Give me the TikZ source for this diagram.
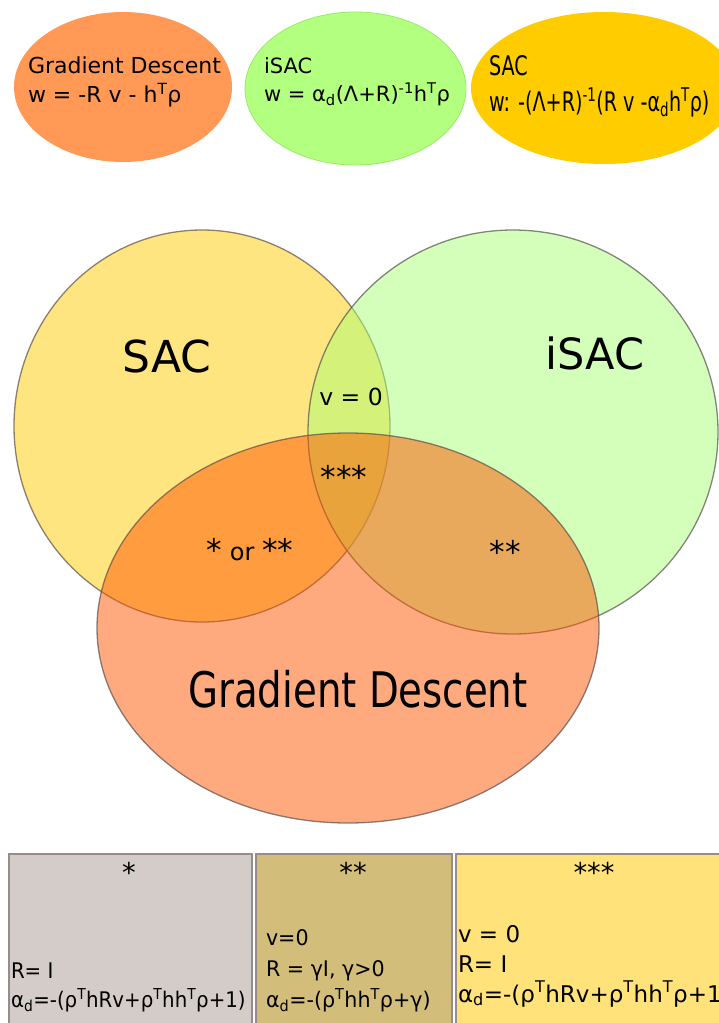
\documentclass[tikz,border=0pt]{standalone}
\usepackage{fontspec}
\setmainfont{DejaVu Sans}
\usepackage{graphicx}
\usetikzlibrary{shapes.geometric}
\definecolor{gdtop}{RGB}{255,153,85}
\definecolor{isactop}{RGB}{179,255,128}
\definecolor{isacedge}{RGB}{150,235,100}
\definecolor{sactop}{RGB}{255,204,0}
\definecolor{sacfill}{RGB}{255,204,0}
\definecolor{isacfill}{RGB}{170,255,119}
\definecolor{gdfill}{RGB}{255,85,0}
\definecolor{vennline}{RGB}{90,80,80}
\definecolor{boxline}{RGB}{150,140,140}
\definecolor{boxone}{RGB}{211,204,200}
\definecolor{boxtwo}{RGB}{210,190,122}
\definecolor{boxthree}{RGB}{255,226,122}
\newcommand\setfs[2]{\fontsize{#1}{#2}\selectfont}
\newcommand\sps[1]{\textsuperscript{#1}}
\newcommand\sbs[1]{\textsubscript{#1}}
\newcommand\bigast{\raisebox{-1.5pt}{\scalebox{1.3}{*}}}
\begin{document}
\begin{tikzpicture}[x=1pt,y=-1pt,
  txt/.style={inner sep=0pt, outer sep=0pt},
  topell/.style={ellipse, inner sep=0pt},
  venn/.style={ellipse, inner sep=0pt, draw=vennline, draw opacity=0.7, line width=1.3pt, fill opacity=0.5},
  infobox/.style={rectangle, anchor=north west, inner sep=0pt, draw=boxline, line width=2pt, minimum height=200pt}]
\useasboundingbox (0,0) rectangle (719,1023);
\clip (0,0) rectangle (719,1023);
\fill[white] (0,0) rectangle (719,1023);
% top ellipses
\node[topell, fill=gdtop, minimum width=218pt, minimum height=150pt] (gdtop) at (123,87) {};
\node[topell, fill=isactop, draw=isacedge, line width=0.8pt, minimum width=221pt, minimum height=153pt] (isactop) at (355.5,88.5) {};
\node[topell, fill=sactop, minimum width=266pt, minimum height=152pt] (sactop) at (604,88) {};
\node[txt, anchor=base west] (gdtoptext) at (28,73) {\setfs{22}{29}\begin{tabular}[t]{@{}l@{}}Gradient Descent\\ w = -R v - h\sps{T}ρ\end{tabular}};
\node[txt, anchor=base west] (isactoptext) at (264,73) {\setfs{21}{28}\begin{tabular}[t]{@{}l@{}}iSAC\\ w = α\sbs{d}(Λ+R)\sps{-1}h\sps{T}ρ\end{tabular}};
\node[txt, anchor=base west] (sactoptext) at (489,75) {\scalebox{0.71}[1]{\setfs{27}{36}\begin{tabular}[t]{@{}l@{}}SAC\\ w: -(Λ+R)\sps{-1}(R v -α\sbs{d}h\sps{T}ρ)\end{tabular}}};
% Venn diagram
\node[venn, fill=sacfill, minimum width=376pt, minimum height=392pt] (sac) at (202,426) {};
\node[venn, fill=isacfill, minimum width=410pt, minimum height=404pt] (isac) at (513,432) {};
\node[venn, fill=gdfill, minimum width=502pt, minimum height=390pt] (gd) at (348,628) {};
\node[txt, anchor=base] (saclabel) at (167,372) {\setfs{44}{50}SAC};
\node[txt, anchor=base] (isaclabel) at (595,369) {\setfs{43}{50}iSAC};
\node[txt, anchor=base] (gdlabel) at (358,707) {\scalebox{0.79}[1]{\setfs{49}{56}Gradient Descent}};
\node[txt, anchor=base] (vzero) at (351,405) {\setfs{23.5}{28}v = 0};
\node[txt, anchor=base] (three) at (344,487) {\setfs{24}{28}\bigast\bigast\bigast};
\node[txt, anchor=base] (oneortwo) at (250,560) {\setfs{24}{28}\bigast{} or \bigast\bigast};
\node[txt, anchor=base] (two) at (505,562) {\setfs{24}{28}\bigast\bigast};
% bottom boxes
\node[infobox, fill=boxone, minimum width=243pt] (boxa) at (8,853) {};
\node[infobox, fill=boxtwo, minimum width=196pt] (boxb) at (255,853) {};
\node[infobox, fill=boxthree, minimum width=300pt] (boxc) at (455,853) {};
\node[txt, anchor=base] (boxatitle) at (129,881) {\setfs{21}{24}\bigast};
\node[txt, anchor=base] (boxbtitle) at (353,881) {\setfs{21}{24}\bigast\bigast};
\node[txt, anchor=base] (boxctitle) at (594,881) {\setfs{21}{24}\bigast\bigast\bigast};
\node[txt, anchor=base west] (boxatext) at (11,978) {\scalebox{0.92}[1]{\setfs{21.5}{29.5}\begin{tabular}[t]{@{}l@{}}R= I\\ α\sbs{d}=-(ρ\sps{T}hRv+ρ\sps{T}hh\sps{T}ρ+1)\end{tabular}}};
\node[txt, anchor=base west] (boxbtext) at (266,945) {\scalebox{0.96}[1]{\setfs{21.5}{31}\begin{tabular}[t]{@{}l@{}}v=0\\ R = γI, γ>0\\ α\sbs{d}=-(ρ\sps{T}hh\sps{T}ρ+γ)\end{tabular}}};
\node[txt, anchor=base west] (boxctext) at (458,942) {\setfs{23}{30}\begin{tabular}[t]{@{}l@{}}v = 0\\ R= I\\ α\sbs{d}=-(ρ\sps{T}hRv+ρ\sps{T}hh\sps{T}ρ+1)\end{tabular}};
\end{tikzpicture}
\end{document}
